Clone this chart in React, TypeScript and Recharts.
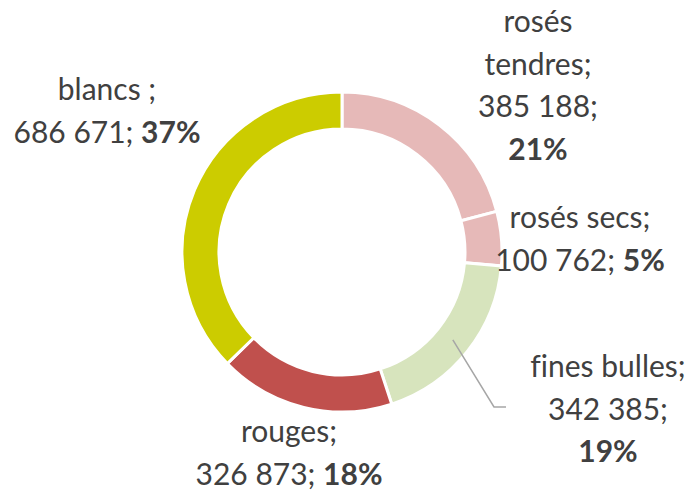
import { PieChart, Pie, Cell } from 'recharts'

const categories = ['rosés tendres', 'rosés secs', 'fines bulles', 'rouges', 'blancs']
const volumes = [385188, 100762, 342385, 326873, 686671]
const colors = ['#E6B9B8', '#E6B9B8', '#D7E4BD', '#C0504D', '#CCCC00']

// label text patterns: | = line break, {v} = volume, {p} = bold percent
const labelPatterns = [
  'rosés|tendres;|{v};|{p}',
  'rosés secs;|{v}; {p}',
  'fines bulles;|{v};|{p}',
  'rouges;|{v}; {p}',
  'blancs ;|{v}; {p}',
]

// label anchor (centre x, first baseline y) and optional leader elbow
const labelPos = [
  { x: 538, y: 32 },
  { x: 580, y: 228 },
  { x: 608, y: 377, elbow: [494, 407, 506] },
  { x: 289, y: 442 },
  { x: 107, y: 100 },
]

const data = categories.map((name, i) => ({ name, value: volumes[i] }))

const fmt = (n: number) => String(n).replace(/\B(?=(\d{3})+(?!\d))/g, ' ')
const RAD = Math.PI / 180
const LINE_H = 42.5

// eslint-disable-next-line @typescript-eslint/no-explicit-any
const renderLabel = (props: any) => {
  const { index, value, percent, cx, cy, midAngle, innerRadius, outerRadius } = props
  const pos = labelPos[index]
  const pct = `${Math.round(percent * 100)}%`
  const lines = labelPatterns[index].split('|')
  let leader = null
  if (pos.elbow) {
    const r = (innerRadius + outerRadius) / 2
    const sx = cx + r * Math.cos(-midAngle * RAD)
    const sy = cy + r * Math.sin(-midAngle * RAD)
    const [ex, ey, hx] = pos.elbow
    leader = <polyline points={`${sx},${sy} ${ex},${ey} ${hx},${ey}`} fill="none" stroke="#A6A6A6" strokeWidth={1.5} />
  }
  return (
    <g key={`lbl-${index}`}>
      {leader}
      <text
        x={pos.x}
        y={pos.y}
        textAnchor="middle"
        fill="#404040"
        fontSize={30}
        fontFamily="Lato, sans-serif"
        style={{ fontVariantLigatures: 'none' }}
      >
        {lines.map((ln, li) => {
          const parts = ln.split(/(\{p\})/).filter(Boolean)
          return (
            <tspan key={li} x={pos.x} y={pos.y + li * LINE_H}>
              {parts.map((p, pi) =>
                p === '{p}' ? (
                  <tspan key={pi} fontWeight="bold">{pct}</tspan>
                ) : (
                  <tspan key={pi}>{p.replace('{v}', fmt(value))}</tspan>
                )
              )}
            </tspan>
          )
        })}
      </text>
    </g>
  )
}

export default function App() {
  return (
    <div style={{ position: 'absolute', left: 0, top: 0, width: 697, height: 490, background: '#fff' }}>
      <PieChart width={697} height={490} margin={{ top: 0, right: 0, bottom: 0, left: 0 }}>
        <Pie
          data={data}
          dataKey="value"
          nameKey="name"
          cx={342}
          cy={252}
          innerRadius={123}
          outerRadius={160}
          startAngle={90}
          endAngle={-270}
          stroke="#FFFFFF"
          strokeWidth={3}
          label={renderLabel}
          labelLine={false}
          isAnimationActive={false}
        >
          {data.map((d, i) => (
            <Cell key={d.name} fill={colors[i]} />
          ))}
        </Pie>
      </PieChart>
    </div>
  )
}
